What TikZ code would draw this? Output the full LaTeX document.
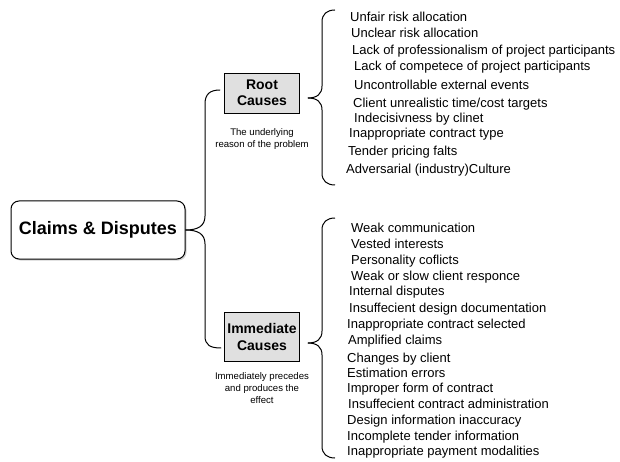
\documentclass[tikz,border=0pt]{standalone}
\usepackage{fontspec}
\setmainfont{Liberation Sans}
\usetikzlibrary{shadows}

\tikzset{
  mainbox/.style={draw,rounded corners=8pt,fill=white,line width=1pt,
    minimum width=174pt,minimum height=58pt,
    font=\fontsize{18}{20}\selectfont\bfseries,
    drop shadow={shadow xshift=1.5pt,shadow yshift=-1.5pt,opacity=0.35}},
  causebox/.style={draw,fill=black!12,line width=0.8pt,minimum width=75pt,
    align=center,inner sep=2pt,font=\fontsize{14}{16.5}\selectfont\bfseries},
  note/.style={align=center,inner sep=0pt,font=\fontsize{9.6}{12.3}\selectfont},
  item/.style={anchor=west,inner sep=0pt,font=\fontsize{13}{14}\selectfont},
  brace/.style={line width=1pt,line join=round}
}

\begin{document}
\begin{tikzpicture}[x=1pt,y=-1pt]
  \useasboundingbox (0,0) rectangle (620,462);

  % main node and the two kinds of causes
  \node[mainbox] (claims) at (98,230) {Claims \& Disputes};

  \node[causebox,minimum height=40pt] (root) at (262,93) {Root\\Causes};
  \node[note] (rootnote) at (262,139) {The underlying\\reason of the problem};

  \node[causebox,minimum height=49pt] (imm) at (262,337) {Immediate\\Causes};
  \node[note] (immnote) at (262,388) {Immediately precedes\\and produces the\\effect};

  % big brace
  \draw[brace] (claims.east) .. controls (198,230) and (205,226) .. (205,216)
    -- (205,104) .. controls (205,94) and (210,90) .. ([xshift=-4pt,yshift=3pt]root.west);
  \draw[brace] (claims.east) .. controls (198,230) and (205,234) .. (205,244)
    -- (205,336) .. controls (205,345) and (210,348) .. ([xshift=-3pt,yshift=-11pt]imm.west);

  % braces of the lists
  \coordinate (rt) at (335,10);
  \coordinate (rb) at (335,185);
  \draw[brace] ([xshift=8pt,yshift=-5pt]root.east) .. controls (317,98) and (322,94) .. (322,86)
    -- (322,22) .. controls (322,14) and (327,10) .. (rt);
  \draw[brace] ([xshift=8pt,yshift=-5pt]root.east) .. controls (317,98) and (322,102) .. (322,110)
    -- (322,173) .. controls (322,181) and (327,185) .. (rb);

  \coordinate (it) at (335,218);
  \coordinate (ib) at (335,458);
  \draw[brace] ([xshift=8pt,yshift=-6pt]imm.east) .. controls (317,343) and (322,339) .. (322,331)
    -- (322,230) .. controls (322,222) and (327,218) .. (it);
  \draw[brace] ([xshift=8pt,yshift=-6pt]imm.east) .. controls (317,343) and (322,347) .. (322,355)
    -- (322,446) .. controls (322,454) and (327,458) .. (ib);

  % root causes
  \foreach \y/\x/\txt [count=\i] in {17/350/Unfair risk allocation,
      33/351/Unclear risk allocation,
      51/352/Lack of professionalism of project participants,
      67/354/Lack of competece of project participants,
      85/354/Uncontrollable external events,
      104/353/{Client unrealistic time/cost targets},
      119/354/Indecisivness by clinet,
      134/349/Inappropriate contract type,
      152/348/Tender pricing falts,
      170/346/Adversarial (industry)Culture}
    \node[item] (r\i) at (\x,\y) {\txt};

  % immediate causes
  \foreach \y/\x/\txt [count=\i] in {228/351/Weak communication,
      244/351/Vested interests,
      261/351/Personality coflicts,
      277/351/Weak or slow client responce,
      292/349/Internal disputes,
      309/349/Insuffecient design documentation,
      325/347/Inappropriate contract selected,
      341/348/Amplified claims,
      359/347/Changes by client,
      373/347/Estimation errors,
      389/347/Improper form of contract,
      404/348/Insuffecient contract administration,
      421/347/Design information inaccuracy,
      437/347/Incomplete tender information,
      452/347/Inappropriate payment modalities}
    \node[item] (c\i) at (\x,\y) {\txt};

\end{tikzpicture}
\end{document}
